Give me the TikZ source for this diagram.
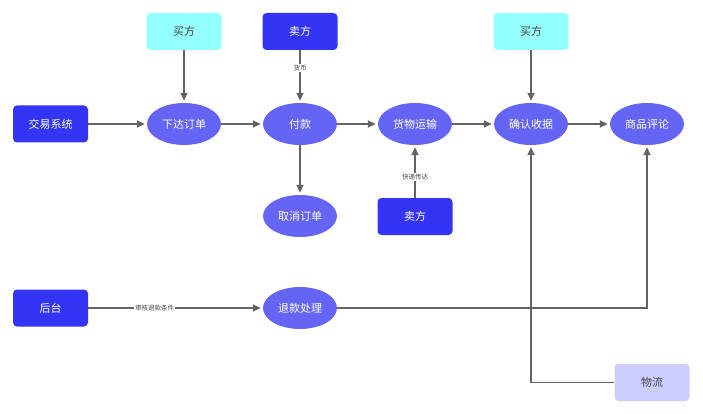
\documentclass[tikz,border=0pt]{standalone}
\usepackage{fontspec}
\setmainfont{Noto Sans CJK SC}
\usetikzlibrary{shapes.geometric,arrows.meta}
\definecolor{dblue}{RGB}{52,52,245}
\definecolor{mblue}{RGB}{100,100,245}
\definecolor{lcyan}{RGB}{150,255,255}
\definecolor{lav}{RGB}{204,204,255}
\definecolor{lgray}{RGB}{100,100,100}
\definecolor{tgray}{RGB}{70,70,70}
\tikzset{
  dbox/.style={draw=none, fill=dblue, rounded corners=4pt, minimum width=75pt, minimum height=37pt, text=white, font=\fontsize{11}{13}\selectfont},
  cbox/.style={dbox, fill=lcyan, text=tgray},
  lbox/.style={dbox, fill=lav, text=tgray},
  ell/.style={ellipse, fill=mblue, minimum width=74pt, minimum height=42pt, inner sep=0pt, text=white, font=\fontsize{11}{13}\selectfont},
  conn/.style={draw=lgray, line width=1.8pt, shorten >=2pt, -{Triangle[length=8pt,width=7pt]}},
  lab/.style={fill=white, inner sep=1pt, text=tgray, font=\fontsize{6.5}{7}\selectfont}
}
\begin{document}
\begin{tikzpicture}[x=1pt,y=-1pt]
\useasboundingbox (0,0) rectangle (703,414);
\node[dbox] (sys) at (50.5,124) {交易系统};
\node[ell] (order) at (184,124) {下达订单};
\node[ell] (pay) at (300,124) {付款};
\node[ell] (ship) at (415,124) {货物运输};
\node[ell] (conf) at (531,124) {确认收据};
\node[ell] (rev) at (647,124) {商品评论};
\node[ell] (cancel) at (300,216) {取消订单};
\node[ell] (refund) at (300,308) {退款处理};
\node[cbox] (buy1) at (184,31.5) {买方};
\node[dbox] (sell1) at (300,31.5) {卖方};
\node[cbox] (buy2) at (531,31.5) {买方};
\node[dbox] (sell2) at (415,216.5) {卖方};
\node[dbox] (back) at (50.5,308) {后台};
\node[lbox] (logi) at (652,382.5) {物流};
\coordinate (c1) at (647,308);
\coordinate (c2) at (531,382.5);

\draw[conn] (sys) -- (order);
\draw[conn] (buy1) -- (order);
\draw[conn] (order) -- (pay);
\draw[conn] (sell1) -- node[lab, pos=0.33] {货币} (pay);
\draw[conn] (pay) -- (ship);
\draw[conn] (pay) -- (cancel);
\draw[conn] (sell2) -- node[lab, pos=0.4] {快递传达} (ship);
\draw[conn] (ship) -- (conf);
\draw[conn] (buy2) -- (conf);
\draw[conn] (conf) -- (rev);
\draw[conn] (back) -- node[lab, pos=0.38] {审核退款条件} (refund);
\draw[conn] (refund) -- (c1) -- (rev);
\draw[conn] (logi) -- (c2) -- (conf);
\end{tikzpicture}
\end{document}
